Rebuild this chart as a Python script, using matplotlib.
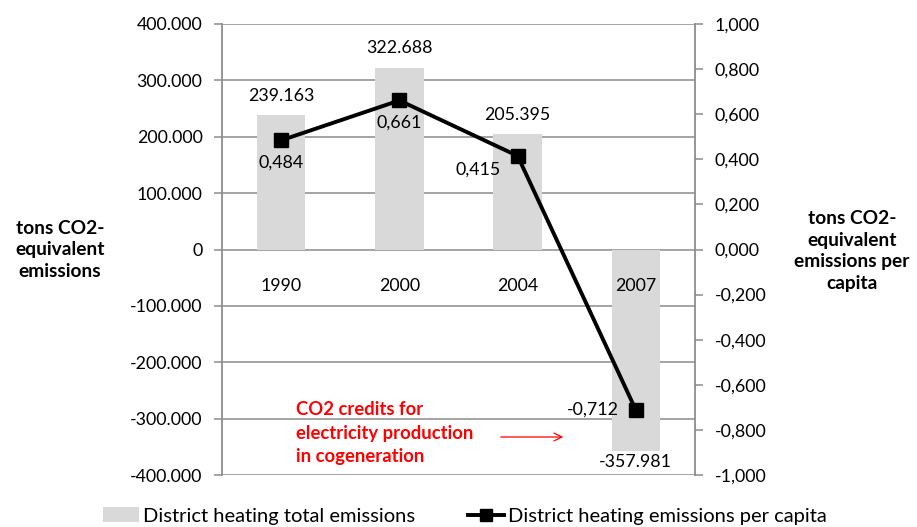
import matplotlib
matplotlib.use("Agg")
import matplotlib.pyplot as plt
from matplotlib.lines import Line2D
from matplotlib.patches import Patch, FancyArrowPatch

plt.rcParams['font.family'] = ['Lato', 'DejaVu Sans']

years = ['1990', '2000', '2004', '2007']
total_emissions = [239163, 322688, 205395, -357981]
total_labels = ['239.163', '322.688', '205.395', '-357.981']
per_capita = [0.484, 0.661, 0.415, -0.712]
per_capita_labels = ['0,484', '0,661', '0,415', '-0,712']

left_ticks = [-400000, -300000, -200000, -100000, 0, 100000, 200000, 300000, 400000]
left_tick_labels = ['-400.000', '-300.000', '-200.000', '-100.000', '0', '100.000', '200.000', '300.000', '400.000']
right_ticks = [-1.0, -0.8, -0.6, -0.4, -0.2, 0.0, 0.2, 0.4, 0.6, 0.8, 1.0]
right_tick_labels = ['-1,000', '-0,800', '-0,600', '-0,400', '-0,200', '0,000', '0,200', '0,400', '0,600', '0,800', '1,000']

grid_c = '#8c8c8c'
bar_c = '#d9d9d9'
fs = 12.8
fs_lab = 13.8

fig = plt.figure(figsize=(9.17, 5.27), dpi=100)
ax = fig.add_axes([222/917, 1-475/527, (695-222)/917, (475-24)/527])
x = list(range(len(years)))
ax.bar(x, total_emissions, width=0.41, color=bar_c, zorder=2)
ax.set_xlim(-0.5, 3.5)
ax.set_ylim(-400000, 400000)
ax.set_yticks(left_ticks)
ax.set_yticklabels(left_tick_labels, fontsize=fs)
for t in left_ticks:
    ax.axhline(t, color=grid_c, lw=1.1, zorder=1)
for s in ['top', 'right', 'bottom']:
    ax.spines[s].set_visible(False)
ax.spines['left'].set_color(grid_c)
ax.spines['left'].set_linewidth(1.3)
ax.set_xticks([])
ax.tick_params(axis='y', length=6, color=grid_c, width=1.1, pad=8)

for i, yr in enumerate(years):
    ax.annotate(yr, (i, 0), xytext=(0, -26), textcoords='offset points',
                ha='center', va='center', fontsize=fs, zorder=10)

for i, (v, lab) in enumerate(zip(total_emissions, total_labels)):
    if v >= 0:
        ax.annotate(lab, (i, v), xytext=(0, 8), textcoords='offset points',
                    ha='center', va='bottom', fontsize=fs)
    else:
        ax.annotate(lab, (i, v), xytext=(0, -2), textcoords='offset points',
                    ha='center', va='top', fontsize=fs)

ax2 = ax.twinx()
ax2.set_ylim(-1.0, 1.0)
ax2.set_yticks(right_ticks)
ax2.set_yticklabels(right_tick_labels, fontsize=fs)
for s in ['top', 'left', 'bottom']:
    ax2.spines[s].set_visible(False)
ax2.spines['right'].set_color(grid_c)
ax2.spines['right'].set_linewidth(1.3)
ax2.tick_params(axis='y', length=6, color=grid_c, width=1.1, pad=8)
ax2.plot(x, per_capita, color='black', lw=2.8, marker='s', markersize=9.5, zorder=5)

offsets = [(0, -10, 'center', 'top'), (0, -10, 'center', 'top'),
           (-12, -10, 'right', 'center'), (-12, 0, 'right', 'center')]
for i, (v, lab) in enumerate(zip(per_capita, per_capita_labels)):
    dx, dy, ha, va = offsets[i]
    ax2.annotate(lab, (i, v), xytext=(dx, dy), textcoords='offset points',
                 ha=ha, va=va, fontsize=fs)

fig.text(60/917, 1-250/527, 'tons CO2-\nequivalent\nemissions', ha='center', va='center',
         fontsize=fs_lab, fontweight='bold', linespacing=1.35)
fig.text(852/917, 1-251/527, 'tons CO2-\nequivalent\nemissions per\ncapita', ha='center', va='center',
         fontsize=fs_lab, fontweight='bold', linespacing=1.35)

fig.text(296/917, 1-433/527, 'CO2 credits for\nelectricity production\nin cogeneration',
         ha='left', va='center', color='red', fontsize=13.3, fontweight='bold', linespacing=1.45)
fig.add_artist(FancyArrowPatch((498/917, 1-437/527), (566/917, 1-437/527),
               transform=fig.transFigure, arrowstyle='->', mutation_scale=14, color='red', lw=0.9))

handles = [Patch(facecolor=bar_c, edgecolor='none', label='District heating total emissions'),
           Line2D([0], [0], color='black', lw=2.8, marker='s', markersize=9,
                  label='District heating emissions per capita')]
fig.legend(handles=handles, loc='center', bbox_to_anchor=(465/917, 1-516/527), ncol=2,
           frameon=False, fontsize=14.5, handlelength=1.8, columnspacing=2.6, handletextpad=0.2,
           borderpad=0)

fig.savefig('out.png', dpi=100)
